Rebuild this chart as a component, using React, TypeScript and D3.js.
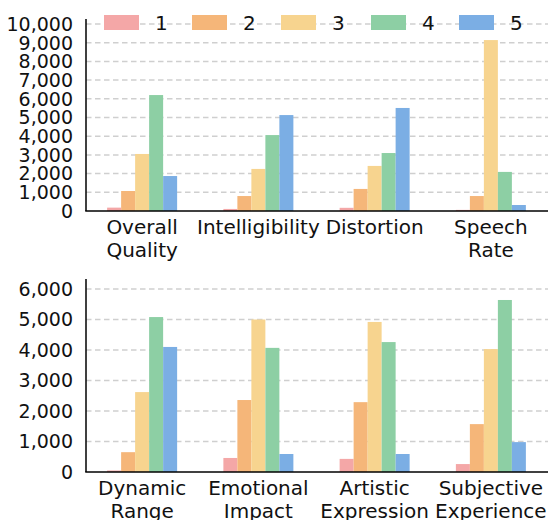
import React from "react";
import * as d3 from "d3";

const seriesNames = ["1", "2", "3", "4", "5"];
const colors = ["#F4A7A7", "#F5B679", "#F7D48F", "#8DCFA4", "#7BAEE4"];

const topCategories = [["Overall", "Quality"], ["Intelligibility"], ["Distortion"], ["Speech", "Rate"]];
const topValues = [
  [180, 1070, 3050, 6200, 1870],
  [110, 800, 2250, 4060, 5130],
  [170, 1180, 2410, 3100, 5510],
  [60, 800, 9140, 2090, 320],
];
const topTicks = [0, 1000, 2000, 3000, 4000, 5000, 6000, 7000, 8000, 9000, 10000];

const bottomCategories = [["Dynamic", "Range"], ["Emotional", "Impact"], ["Artistic", "Expression"], ["Subjective", "Experience"]];
const bottomValues = [
  [50, 650, 2620, 5080, 4100],
  [460, 2360, 5000, 4070, 590],
  [430, 2290, 4920, 4260, 590],
  [260, 1570, 4030, 5640, 980],
];
const bottomTicks = [0, 1000, 2000, 3000, 4000, 5000, 6000];

const FONT = "DejaVu Sans, sans-serif";
const fmt = d3.format(",");

function Panel({ categories, values, ticks, yMax, y0, yTop }: any) {
  const axisX = 86;
  const rightX = 548;
  const x = d3.scaleBand<number>().domain(d3.range(categories.length)).range([84, 549]).paddingInner(0).paddingOuter(0);
  const y = d3.scaleLinear().domain([0, yMax]).range([y0, yTop]);
  const groupW = 70;
  const xs = d3.scaleBand<number>().domain(d3.range(seriesNames.length)).range([0, groupW]);
  return (
    <g>
      {ticks.map((t: number) => (
        <g key={t}>
          {t > 0 && (
            <line x1={axisX} x2={rightX} y1={y(t)} y2={y(t)} stroke="#cfcfcf" strokeWidth={1.5} strokeDasharray="5.5,3.5" />
          )}
          <text x={73} y={y(t)} dy="0.36em" textAnchor="end" fontSize={19} fontFamily={FONT} fill="#111">
            {fmt(t)}
          </text>
        </g>
      ))}
      {values.map((row: number[], ci: number) => {
        const cx = x(ci)! + x.bandwidth() / 2;
        return (
          <g key={ci}>
            {row.map((v, si) => (
              <rect key={si} x={cx - groupW / 2 + xs(si)!} width={xs.bandwidth()} y={y(v)} height={y0 - y(v)} fill={colors[si]} />
            ))}
            {categories[ci].map((line: string, li: number) => (
              <text key={li} x={cx} y={y0 + 23 + li * 22.5} textAnchor="middle" fontSize={20} fontFamily={FONT} fill="#111">
                {line}
              </text>
            ))}
          </g>
        );
      })}
      <line x1={axisX} x2={axisX} y1={yTop} y2={y0} stroke="#000" strokeWidth={1.5} />
      <line x1={axisX - 0.75} x2={rightX} y1={y0} y2={y0} stroke="#000" strokeWidth={1.5} />
    </g>
  );
}

export default function App() {
  const legendX = [104, 192, 281, 371, 459];
  return (
    <svg width={554} height={520} style={{ position: "absolute", left: 0, top: 0, background: "#fff" }}>
      <Panel categories={topCategories} values={topValues} ticks={topTicks} yMax={10267} y0={211} yTop={19} />
      <Panel categories={bottomCategories} values={bottomValues} ticks={bottomTicks} yMax={6328} y0={472} yTop={279} />
      {seriesNames.map((s, i) => (
        <g key={s}>
          <rect x={legendX[i]} y={15} width={35} height={15} fill={colors[i]} />
          <text x={legendX[i] + 51} y={22.5} dy="0.36em" fontSize={20} fontFamily={FONT} fill="#111">
            {s}
          </text>
        </g>
      ))}
    </svg>
  );
}
